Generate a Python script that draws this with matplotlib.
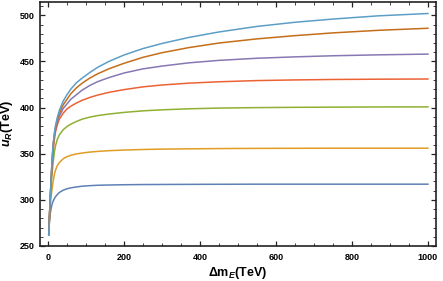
import numpy as np
import matplotlib
matplotlib.use("Agg")
import matplotlib.pyplot as plt
from matplotlib.ticker import MultipleLocator

plt.rcParams['font.family'] = ['Liberation Sans', 'DejaVu Sans']
plt.rcParams['mathtext.fontset'] = 'custom'
plt.rcParams['mathtext.rm'] = 'Liberation Sans:bold'
plt.rcParams['mathtext.it'] = 'Liberation Sans:bold:italic'

dm = [2, 3, 4, 6, 8, 10, 12, 14, 17, 20, 25, 30, 40, 50, 60, 75, 90, 110, 130, 160,
      200, 250, 300, 370, 450, 550, 650, 750, 870, 1000]

# u_R (TeV) curves, bottom to top
u_blue = [263, 270, 277, 285, 290, 294, 297, 299, 301.5, 303.5, 306, 308, 310.5, 312, 313, 314, 314.8, 315.4, 315.8, 316.1,
          316.4, 316.6, 316.7, 316.8, 316.9, 317, 317, 317, 317, 317]
u_yellow = [264, 272, 280, 293, 303, 310, 315.5, 321, 328, 332.5, 337.5, 340.5, 344.5, 346.8, 348.3, 349.8, 350.8, 351.8, 352.5, 353.3,
            354, 354.6, 355, 355.3, 355.6, 355.8, 355.9, 356, 356, 356]
u_green = [263, 273, 283, 300, 314, 325, 334, 342, 352, 359, 366, 370.5, 376, 379.5, 382, 385, 387.5, 389.7, 391.3, 393,
           394.8, 396.5, 397.6, 398.7, 399.5, 400, 400.3, 400.5, 400.7, 400.8]
u_red = [263, 273, 284, 302, 318, 333, 344, 354, 366, 374, 382, 387.5, 394, 398.5, 401.5, 405, 408, 411, 413.5, 416.5,
         419.5, 422.5, 424.5, 426.5, 428, 429.3, 430, 430.5, 430.8, 431]
u_purple = [262, 272, 283, 302, 319, 335, 349, 360, 370, 377, 385, 391, 399, 404, 409, 414, 419, 424, 428, 432.5,
            437.5, 442, 445, 448.5, 451.2, 453.5, 455, 456.2, 457.2, 458]
u_orange = [262, 272, 283, 303, 320, 336, 350, 361, 371, 379, 388, 394, 403, 409, 415, 421.5, 426.5, 432, 436.5, 442,
            448, 454.5, 459.5, 465, 470, 474.5, 478, 481, 483.8, 486]
u_lblue = [262, 272, 283, 303, 320, 337, 351, 362, 373, 381, 390, 397, 407, 414, 420, 427, 432, 438, 443.5, 450,
           457, 464, 469.5, 476, 482, 488, 492.5, 496, 499.5, 502]

series = [u_blue, u_yellow, u_green, u_red, u_purple, u_orange, u_lblue]
colors = ['#5E81B5', '#E19C24', '#8FB032', '#EB6235', '#8778B3', '#C56E1A', '#5D9EC7']

fig = plt.figure(figsize=(4.43, 2.81), dpi=100)
ax = fig.add_axes([0.0903, 0.1246, 0.8937, 0.870])

for s, c in zip(series, colors):
    ax.plot(dm, s, color=c, lw=1.1)

ax.set_xlim(-21, 1021)
ax.set_ylim(250, 515)
ax.xaxis.set_major_locator(MultipleLocator(200))
ax.xaxis.set_minor_locator(MultipleLocator(50))
ax.yaxis.set_major_locator(MultipleLocator(50))
ax.yaxis.set_minor_locator(MultipleLocator(10))
ax.tick_params(which='both', direction='in', top=True, right=True, color='#222222')
ax.tick_params(which='major', length=3.5, width=0.9, labelsize=6.5)
ax.tick_params(which='minor', length=2, width=0.6)
ax.tick_params(axis='x', pad=5)
ax.tick_params(axis='y', pad=4)
for lab in ax.get_xticklabels() + ax.get_yticklabels():
    lab.set_fontweight('bold')
for sp in ax.spines.values():
    sp.set_linewidth(1.2)
    sp.set_color('#222222')

ax.set_xlabel(r'Δm$_{\mathit{E}}$(TeV)', fontsize=9, fontweight='bold', labelpad=2)
ax.set_ylabel(r'$\mathit{u}_{\mathit{R}}$(TeV)', fontsize=9, fontweight='bold', labelpad=3)

fig.savefig("out.png", dpi=100)
